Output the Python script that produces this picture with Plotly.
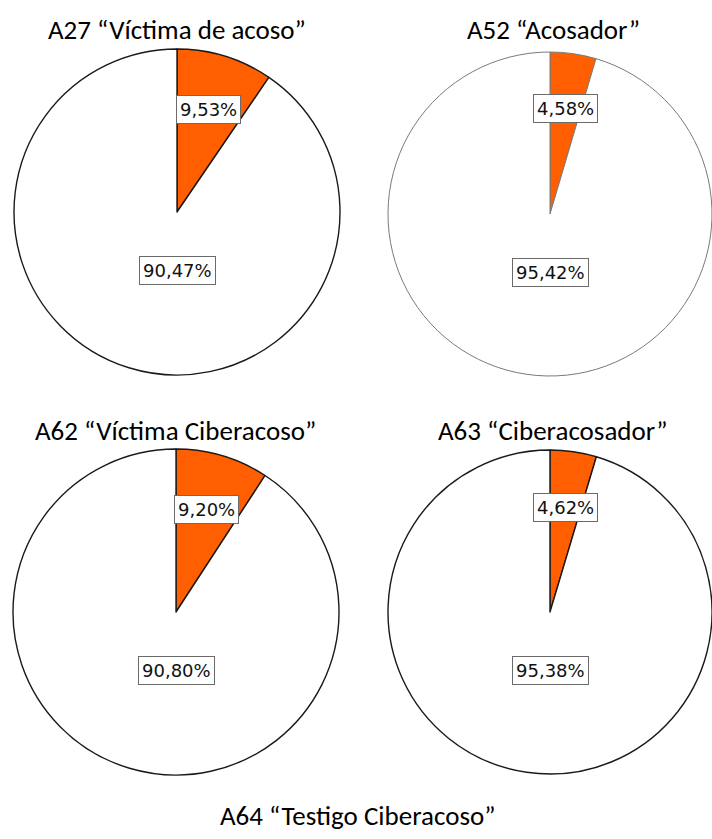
import math
import plotly.graph_objects as go

W, H = 712, 839

titles = ["A27 “Víctima de acoso”", "A52 “Acosador”",
          "A62 “Víctima Ciberacoso”", "A63 “Ciberacosador”"]
extra_title = "A64 “Testigo Ciberacoso”"
slice_labels = ["Sí", "No"]
values_yes = [9.53, 4.58, 9.20, 4.62]
values_no = [90.47, 95.42, 90.80, 95.38]
text_yes = ["9,53%", "4,58%", "9,20%", "4,62%"]
text_no = ["90,47%", "95,42%", "90,80%", "95,38%"]

# layout (pixel) geometry of each pie: centre x, centre y, radius
geom = [(177, 212, 163), (550, 214, 162), (176, 612, 163), (550, 612, 162)]
line_cols = ["#1a1a1a", "#7a7a7a", "#1a1a1a", "#1a1a1a"]
line_w = [1.4, 1.0, 1.4, 1.4]
title_pos = [(177, 30), (553, 30), (175, 430), (553, 430)]
extra_title_pos = (357, 815)

ORANGE = "#FF5F00"

def px(x):
    return x / W

def py(y):
    return 1 - y / H

fig = go.Figure()
annotations = []
for i in range(4):
    cx, cy, R = geom[i]
    fig.add_trace(go.Pie(
        labels=slice_labels,
        values=[values_yes[i], values_no[i]],
        sort=False, direction="clockwise", rotation=0,
        marker=dict(colors=[ORANGE, "#FFFFFF"],
                    line=dict(color=line_cols[i], width=line_w[i])),
        textinfo="none", hoverinfo="skip", showlegend=False,
        domain=dict(x=[px(cx - R), px(cx + R)], y=[py(cy + R), py(cy - R)]),
    ))
    # label for small slice at its angular midpoint
    total = values_yes[i] + values_no[i]
    ang = math.radians(values_yes[i] / total * 360 / 2)
    lx = cx + 0.655 * R * math.sin(ang)
    ly = cy - 0.655 * R * math.cos(ang)
    for (tx, ty, t) in [(lx, ly, text_yes[i]), (cx, cy + 0.36 * R, text_no[i])]:
        annotations.append(dict(
            x=px(tx), y=py(ty), xref="paper", yref="paper", text=t,
            showarrow=False, xanchor="center", yanchor="middle",
            font=dict(family="DejaVu Sans", size=18, color="#111111"),
            bgcolor="#FFFFFF", bordercolor="#6a6a6a", borderwidth=1, borderpad=3,
        ))
    annotations.append(dict(
        x=px(title_pos[i][0]), y=py(title_pos[i][1]), xref="paper", yref="paper",
        text=titles[i], showarrow=False, xanchor="center", yanchor="middle",
        font=dict(family="Carlito, Lato, sans-serif", size=27, color="#000000"),
    ))

annotations.append(dict(
    x=px(extra_title_pos[0]), y=py(extra_title_pos[1]), xref="paper", yref="paper",
    text=extra_title, showarrow=False, xanchor="center", yanchor="middle",
    font=dict(family="Carlito, Lato, sans-serif", size=27, color="#000000"),
))

fig.update_layout(
    width=W, height=H,
    margin=dict(l=0, r=0, t=0, b=0),
    paper_bgcolor="#FFFFFF", plot_bgcolor="#FFFFFF",
    annotations=annotations,
)

fig.write_html("out.html", config={"displayModeBar": False},
               post_script="document.body.style.margin='0';document.body.style.overflow='hidden';")
